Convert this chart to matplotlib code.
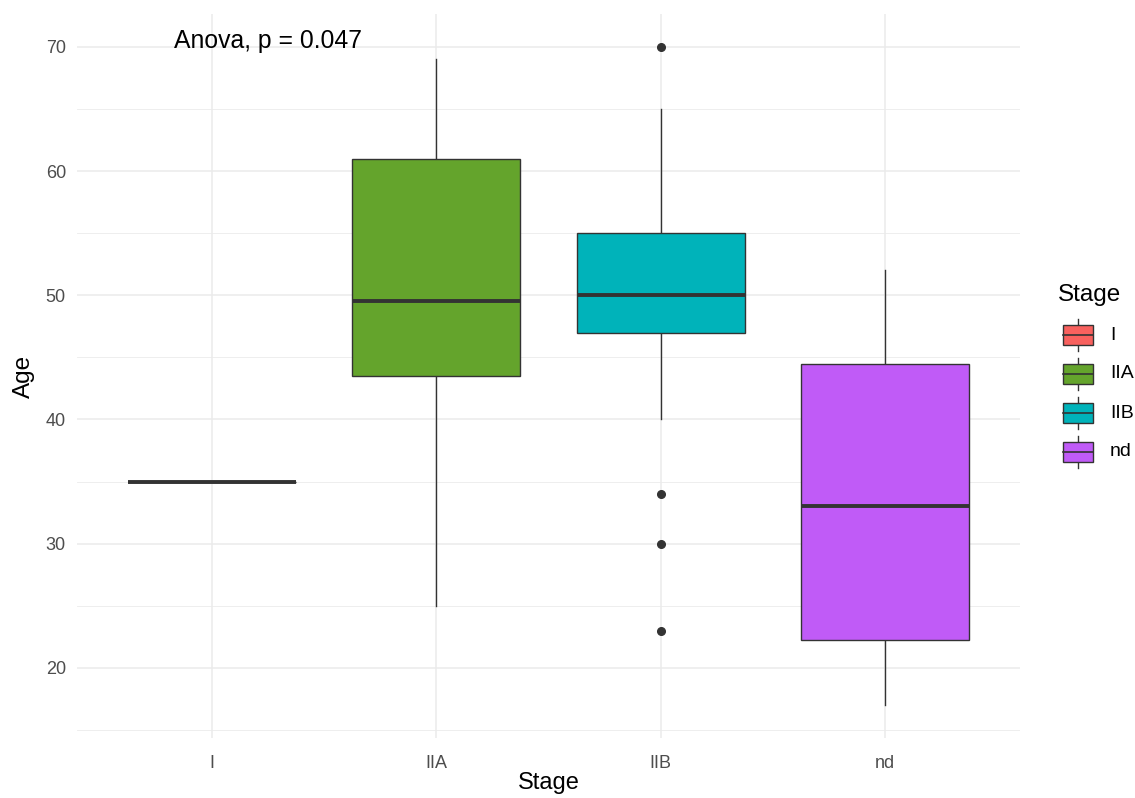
import matplotlib
matplotlib.use("Agg")
import matplotlib.pyplot as plt
from matplotlib.patches import Rectangle
from matplotlib.lines import Line2D

plt.rcParams['font.family'] = ['Liberation Sans', 'DejaVu Sans']

stages = ["I", "IIA", "IIB", "nd"]
q1 = [35, 43.5, 47, 22.25]
med = [35, 49.5, 50, 33]
q3 = [35, 61, 55, 44.5]
whislo = [35, 25, 40, 17]
whishi = [35, 69, 65, 52]
fliers = [[], [], [70, 34, 30, 23], []]
colors = ["#F8615E", "#64A42C", "#00B3BA", "#C05BF7"]
yticks = [20, 30, 40, 50, 60, 70]

W, H = 1135, 798
fig = plt.figure(figsize=(W / 100, H / 100), dpi=100)
ax = fig.add_axes([77 / W, (H - 738) / H, (1020 - 77) / W, (738 - 14) / H])

stats = []
for i, s in enumerate(stages):
    stats.append(dict(label=s, q1=q1[i], med=med[i], q3=q3[i],
                      whislo=whislo[i], whishi=whishi[i], fliers=fliers[i]))

positions = list(range(1, len(stages) + 1))
bp = ax.bxp(stats, positions=positions, widths=0.75, patch_artist=True,
            showcaps=False,
            boxprops=dict(edgecolor="#333333", linewidth=1.0),
            whiskerprops=dict(color="#333333", linewidth=1.0),
            medianprops=dict(color="#333333", linewidth=2.8, solid_capstyle="butt"),
            flierprops=dict(marker="o", markerfacecolor="#333333", markeredgecolor="#333333",
                            markersize=5.5, linestyle="none"))
for patch, c in zip(bp["boxes"], colors):
    patch.set_facecolor(c)
for w in bp["whiskers"]:
    w.set_zorder(1)

ax.set_xlim(0.4, 4.6)
ax.set_ylim(14.35, 72.65)
ax.set_xticks(positions)
ax.set_xticklabels(stages)
ax.set_yticks(yticks)
ax.set_yticks([15, 25, 35, 45, 55, 65], minor=True)
ax.grid(True, which="major", color="#EBEBEB", linewidth=1.1)
ax.grid(True, which="minor", axis="y", color="#EBEBEB", linewidth=0.6)
ax.set_axisbelow(True)
for sp in ax.spines.values():
    sp.set_visible(False)
ax.tick_params(axis="both", which="both", length=0, labelsize=13, colors="#4D4D4D")
ax.tick_params(axis="x", pad=12)
ax.tick_params(axis="y", pad=8)
ax.set_xlabel("Stage", fontsize=17, labelpad=0)
ax.set_ylabel("Age", fontsize=17.5, labelpad=8)

ax.text(0.83, 69.92, "Anova, p = 0.047", fontsize=17.8, ha="left", va="baseline")

# legend (drawn manually in pixel coordinates)
fig.text(1058 / W, 1 - 295 / H, "Stage", fontsize=17.5, ha="left", va="center")
for i, (s, c) in enumerate(zip(stages, colors)):
    yc = H - (335 + 39 * i)
    xc = 1078
    bw, bh, wl = 30, 20, 16
    fig.add_artist(Line2D([xc, xc], [yc - wl, yc + wl], color="#333333", linewidth=1.0,
                          transform=None, zorder=1))
    fig.add_artist(Rectangle((xc - bw / 2, yc - bh / 2), bw, bh, facecolor=c,
                             edgecolor="#333333", linewidth=1.0, transform=None, zorder=2))
    fig.add_artist(Line2D([xc - bw / 2, xc + bw / 2], [yc, yc], color="#333333",
                          linewidth=1.2, transform=None, zorder=3))
    fig.text(1110 / W, yc / H, s, fontsize=14, ha="left", va="center")

fig.savefig("out.png", dpi=100, facecolor="white")
